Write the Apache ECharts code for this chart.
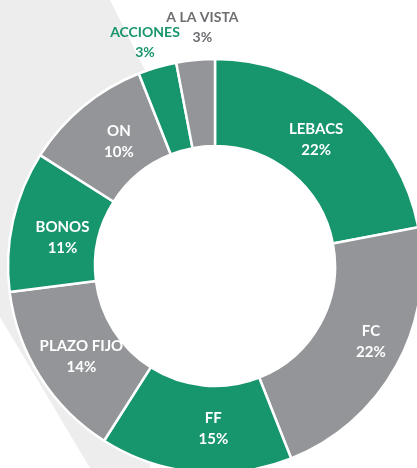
<!DOCTYPE html>
<html>
<head>
<meta charset="utf-8">
<script src="https://cdn.jsdelivr.net/npm/echarts@6/dist/echarts.min.js"></script>
<style>
  html, body { margin: 0; padding: 0; background: #fff; }
  #main { width: 417px; height: 468px; }
</style>
</head>
<body>
<div id="main"></div>
<script>
// portfolio split, clockwise from 12 o'clock
const categories = ["LEBACS", "FC", "FF", "PLAZO FIJO", "BONOS", "ON", "ACCIONES", "A LA VISTA"];
const shares = [22, 22, 15, 14, 11, 10, 3, 3];

const GREEN = "#17956d";
const GREY = "#939598";
const DARK_GREY = "#6d6e71";
const FONT = "Lato";

// hand placed labels in the original sit a bit off the slice mid-angle
const labelNudge = [[-5, 2], [10, -5], [14, -3], [7, 1], [10, 8], [10, 4], [0, 0], [0, 0]];

const chart = echarts.init(document.getElementById("main"));

// small slices get their label outside the ring, no leader line
const outsideLabel = {
  ACCIONES: { color: GREEN, length: 26, distance: 5 },
  "A LA VISTA": { color: DARK_GREY, length: 33, distance: -10 },
};

const pieData = categories.map((name, i) => {
  const item = { name, value: shares[i] };
  const o = outsideLabel[name];
  if (o) {
    item.label = {
      position: "outside",
      color: o.color,
      fontSize: 14,
      lineHeight: 20,
      distanceToLabelLine: o.distance,
    };
    item.labelLine = { show: false, length: o.length, length2: 0 };
  }
  return item;
});

const options = {
  animation: false,
  color: [GREEN, GREY],
  graphic: [
    {
      type: "polygon",
      z: -10,
      silent: true,
      shape: {
        points: [[0, 0], [110, 0], [150, 80], [40, 266], [150, 460], [150, 468], [90, 468], [0, 317]],
      },
      style: { fill: "#ecedec" },
    },
  ],
  series: [
    {
      type: "pie",
      center: [215, 266],
      radius: [120, 207],
      startAngle: 90,
      clockwise: true,
      avoidLabelOverlap: false,
      itemStyle: { borderColor: "#fff", borderWidth: 2.5 },
      label: {
        show: true,
        position: "inside",
        formatter: "{b}\n{c}%",
        color: "#fff",
        fontFamily: FONT,
        fontWeight: "bold",
        fontSize: 15,
        lineHeight: 21,
      },
      labelLayout: function (params) {
        const [dx, dy] = labelNudge[params.dataIndex];
        if (params.dataIndex >= 6) {
          return { align: "center", verticalAlign: "middle" };
        }
        return { dx, dy };
      },
      emphasis: { disabled: true },
      data: pieData,
    },
  ],
};

chart.setOption(options);
</script>
</body>
</html>
